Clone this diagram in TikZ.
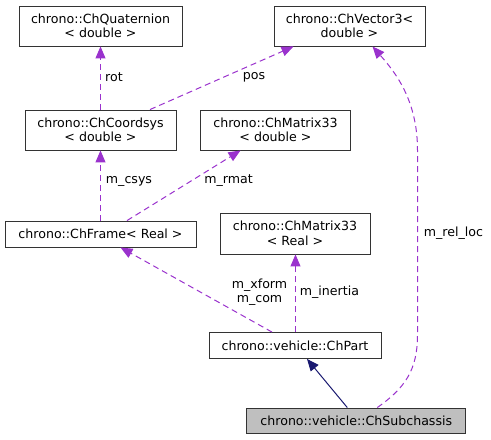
\documentclass[tikz,border=0pt]{standalone}
\usepackage{fontspec}
\setmainfont{DejaVu Sans}
\usetikzlibrary{arrows.meta}
\definecolor{edgepurple}{HTML}{9A32CD}
\definecolor{edgenavy}{HTML}{191970}
\definecolor{curfill}{HTML}{BFBFBF}
\tikzset{
  cls/.style={draw=black!80, line width=0.9pt, fill=white, inner sep=0pt, align=center,
    font=\fontsize{12.6}{14.5}\selectfont},
  usage/.style={draw=edgepurple, line width=1pt, dash pattern=on 6pt off 4pt,
    -{Triangle[length=12pt,width=10pt,fill=edgepurple]}},
  inherit/.style={draw=edgenavy, line width=1pt,
    -{Triangle[length=12pt,width=10pt,fill=edgenavy]}},
  lbl/.style={font=\fontsize{12.6}{14.5}\selectfont, inner sep=0pt, align=center},
}
\begin{document}
\begin{tikzpicture}[x=1pt,y=-1pt]
\useasboundingbox (0,0) rectangle (491,440);
\node[cls, minimum width=163pt, minimum height=40pt] (quat) at (100.5,26) {chrono::ChQuaternion\\< double >};
\node[cls, minimum width=151pt, minimum height=40pt] (vec) at (349.5,26) {chrono::ChVector3<\\double >};
\node[cls, minimum width=151pt, minimum height=40pt] (cs) at (100.5,130) {chrono::ChCoordsys\\< double >};
\node[cls, minimum width=150pt, minimum height=40pt] (matd) at (275.5,130) {chrono::ChMatrix33\\< double >};
\node[cls, minimum width=191pt, minimum height=26pt] (frame) at (100.5,234) {chrono::ChFrame< Real >};
\node[cls, minimum width=150pt, minimum height=41pt] (matr) at (295,233.5) {chrono::ChMatrix33\\< Real >};
\node[cls, minimum width=172pt, minimum height=26pt] (part) at (295,345.5) {chrono::vehicle::ChPart};
\node[cls, fill=curfill, minimum width=219pt, minimum height=25pt] (sub) at (356.3,420.5) {chrono::vehicle::ChSubchassis};

\draw[usage] (cs) -- (quat);
\draw[usage] ([xshift=49.5pt]cs.north) -- ([xshift=-56pt]vec.south);
\draw[usage] (frame) -- (cs);
\draw[usage] ([xshift=26.5pt]frame.north) -- ([xshift=-35pt]matd.south);
\draw[usage] ([xshift=-23pt]part.north) -- ([xshift=20pt]frame.south);
\draw[usage] ([xshift=0.5pt]part.north) -- ([xshift=0.5pt]matr.south);
\draw[usage] ([xshift=21pt]sub.north) .. controls (405,388) and (417.5,370) .. (417.5,335)
  -- (417.5,150) .. controls (417.5,100) and (395,72) .. ([xshift=23pt]vec.south);
\draw[inherit] ([xshift=-9pt]sub.north) -- ([xshift=12pt]part.south);

\node[lbl, anchor=west] (lrot) at (105,77) {rot};
\node[lbl] (lpos) at (254,77) {pos};
\node[lbl] (lcsys) at (129,181) {m\_csys};
\node[lbl] (lrmat) at (228.5,181) {m\_rmat};
\node[lbl] (lxform) at (259.5,292) {m\_xform\\m\_com};
\node[lbl] (linertia) at (329.5,292) {m\_inertia};
\node[lbl] (lrel) at (453.5,233) {m\_rel\_loc};
\end{tikzpicture}
\end{document}
